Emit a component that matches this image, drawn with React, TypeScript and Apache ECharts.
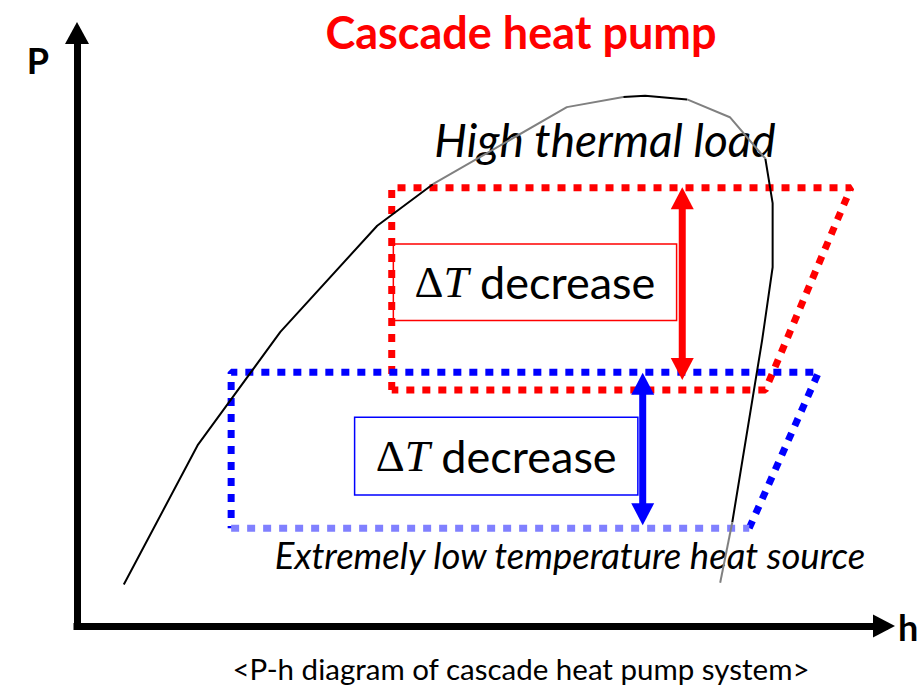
import React, { useEffect, useRef } from "react";
import * as echarts from "echarts";

// Saturation dome (h, P) in relative units
const domeH = [5.8, 15.0, 25.2, 37.2, 44.1, 60.7, 67.7, 70.4, 75.6, 80.9, 85.3, 86.2, 86.2, 84.9, 81.2, 79.7];
const domeP = [7.0, 30.6, 49.6, 67.5, 74.5, 87.5, 89.2, 89.4, 88.8, 85.8, 78.8, 71.3, 60.5, 48.2, 17.5, 7.3];
// dome segments: [startIndex, endIndex, colour]
const domeSegments: [number, number, string][] = [
  [0, 4, "#000000"],
  [4, 6, "#808080"],
  [6, 8, "#000000"],
  [8, 10, "#808080"],
  [10, 14, "#000000"],
  [14, 15, "#808080"],
];

// High-stage cycle (red)
const redCycleH = [39.0, 39.0, 95.9, 85.3, 39.0];
const redCycleP = [39.8, 73.9, 73.9, 39.8, 39.8];
// Low-stage cycle (blue)
const blueCycleH = [83.3, 91.9, 19.1, 19.1];
const blueCycleP = [16.5, 42.8, 42.8, 16.5];
const blueBottomH = [19.1, 83.3];
const blueBottomP = [16.5, 16.5];

// Double arrows
const arrowH = [75.0, 70.1];
const arrowTop = [74.0, 42.7];
const arrowBottom = [41.5, 17.0];
const arrowColors = ["#ff0000", "#0000ff"];

// Label boxes
const boxH0 = [39.2, 34.4];
const boxH1 = [74.3, 69.5];
const boxP0 = [64.4, 35.2];
const boxP1 = [51.5, 22.1];
const boxColors = ["#ff0000", "#0000ff"];
const boxText = "{d|Δ}{t|T}{w| decrease}";

const titleText = "Cascade heat pump";
const highLoadText = "High thermal load";
const lowSourceText = "Extremely low temperature heat source";
const captionText = "<P-h diagram of cascade heat pump system>";

const pairs = (xs: number[], ys: number[]) => xs.map((x, i) => [x, ys[i]]);

const richStyle = {
  d: { fontFamily: "Liberation Serif", fontSize: 45, color: "#000" },
  t: { fontFamily: "Liberation Serif", fontStyle: "italic", fontSize: 45, color: "#000" },
  w: { fontFamily: "Lato", fontSize: 45, color: "#000" },
};

function boxMarkArea(i: number) {
  return {
    silent: true,
    itemStyle: { color: "rgba(255,255,255,0)", borderColor: boxColors[i], borderWidth: 1.5 },
    label: {
      show: true,
      position: "inside",
      formatter: boxText,
      rich: richStyle,
    },
    emphasis: { disabled: true },
    data: [[{ coord: [boxH0[i], boxP0[i]] }, { coord: [boxH1[i], boxP1[i]] }]],
  };
}

export default function App() {
  const ref = useRef<HTMLDivElement>(null);
  useEffect(() => {
    document.body.style.margin = "0";
    const chart = echarts.init(ref.current!, null, { renderer: "svg" });
    const domeSeries = domeSegments.map(([s, e, c]) => ({
      type: "line",
      data: pairs(domeH.slice(s, e + 1), domeP.slice(s, e + 1)),
      showSymbol: false,
      silent: true,
      z: 4,
      lineStyle: { color: c, width: 2 },
    }));
    const dotted = (data: number[][], color: string, extra: any = {}) => ({
      type: "line",
      data,
      showSymbol: false,
      silent: true,
      z: 3,
      lineStyle: { color, width: 7, type: [8, 8] },
      ...extra,
    });
    chart.setOption({
      animation: false,
      grid: { left: 77, right: 36, top: 33, bottom: 59 },
      xAxis: {
        type: "value",
        min: 0,
        max: 100,
        axisLine: {
          show: true,
          onZero: false,
          symbol: ["none", "triangle"],
          symbolSize: [23, 22],
          lineStyle: { color: "#000", width: 7, cap: "square" },
        },
        axisTick: { show: false },
        axisLabel: { show: false },
        splitLine: { show: false },
      },
      yAxis: {
        type: "value",
        min: 0,
        max: 100,
        axisLine: {
          show: true,
          onZero: false,
          symbol: ["none", "triangle"],
          symbolSize: [24, 22],
          lineStyle: { color: "#000", width: 7, cap: "square" },
        },
        axisTick: { show: false },
        axisLabel: { show: false },
        splitLine: { show: false },
      },
      series: [
        dotted(pairs(redCycleH, redCycleP), "#ff0000", { markArea: boxMarkArea(0) }),
        dotted(pairs(blueCycleH, blueCycleP), "#0000ff", { markArea: boxMarkArea(1) }),
        dotted(pairs(blueBottomH, blueBottomP), "#8080ff"),
        ...domeSeries,
        {
          type: "custom",
          silent: true,
          z: 5,
          data: arrowH.map((h, i) => [h, arrowTop[i], arrowBottom[i]]),
          encode: { x: 0, y: [1, 2] },
          renderItem: (params: any, api: any) => {
            const t = api.coord([api.value(0), api.value(1)]);
            const b = api.coord([api.value(0), api.value(2)]);
            const color = arrowColors[params.dataIndex];
            const hw = 11.5;
            const hl = 22;
            return {
              type: "group",
              children: [
                {
                  type: "line",
                  shape: { x1: t[0], y1: t[1] + hl - 1, x2: b[0], y2: b[1] - hl + 1 },
                  style: { stroke: color, lineWidth: 7 },
                },
                {
                  type: "polygon",
                  shape: { points: [[t[0], t[1]], [t[0] - hw, t[1] + hl], [t[0] + hw, t[1] + hl]] },
                  style: { fill: color },
                },
                {
                  type: "polygon",
                  shape: { points: [[b[0], b[1]], [b[0] - hw, b[1] - hl], [b[0] + hw, b[1] - hl]] },
                  style: { fill: color },
                },
              ],
            };
          },
        },
      ],
      graphic: [
        {
          type: "text",
          x: 521,
          y: 32,
          style: {
            text: titleText,
            fontFamily: "Lato",
            fontWeight: "bold",
            fontSize: 45,
            fill: "#ff0000",
            align: "center",
            verticalAlign: "middle",
          },
        },
        {
          type: "text",
          x: 38,
          y: 60,
          style: {
            text: "P",
            fontFamily: "Lato",
            fontWeight: "bold",
            fontSize: 36,
            fill: "#000",
            align: "center",
            verticalAlign: "middle",
          },
        },
        {
          type: "text",
          x: 898,
          y: 627,
          style: {
            text: "h",
            fontFamily: "Lato",
            fontWeight: "bold",
            fontSize: 36,
            fill: "#000",
            align: "left",
            verticalAlign: "middle",
          },
        },
        {
          type: "text",
          x: 605,
          y: 139,
          style: {
            text: highLoadText,
            fontFamily: "Lato",
            fontStyle: "italic",
            fontSize: 46,
            fill: "#000",
            align: "center",
            verticalAlign: "middle",
          },
        },
        {
          type: "text",
          x: 570,
          y: 555,
          style: {
            text: lowSourceText,
            fontFamily: "Lato",
            fontStyle: "italic",
            fontSize: 36.5,
            fill: "#000",
            align: "center",
            verticalAlign: "middle",
          },
        },
        {
          type: "text",
          x: 521,
          y: 668,
          style: {
            text: captionText,
            fontFamily: "Lato",
            fontSize: 29.5,
            fill: "#000",
            align: "center",
            verticalAlign: "middle",
          },
        },
      ],
    });
    return () => chart.dispose();
  }, []);
  return <div ref={ref} style={{ width: 920, height: 685 }} />;
}
